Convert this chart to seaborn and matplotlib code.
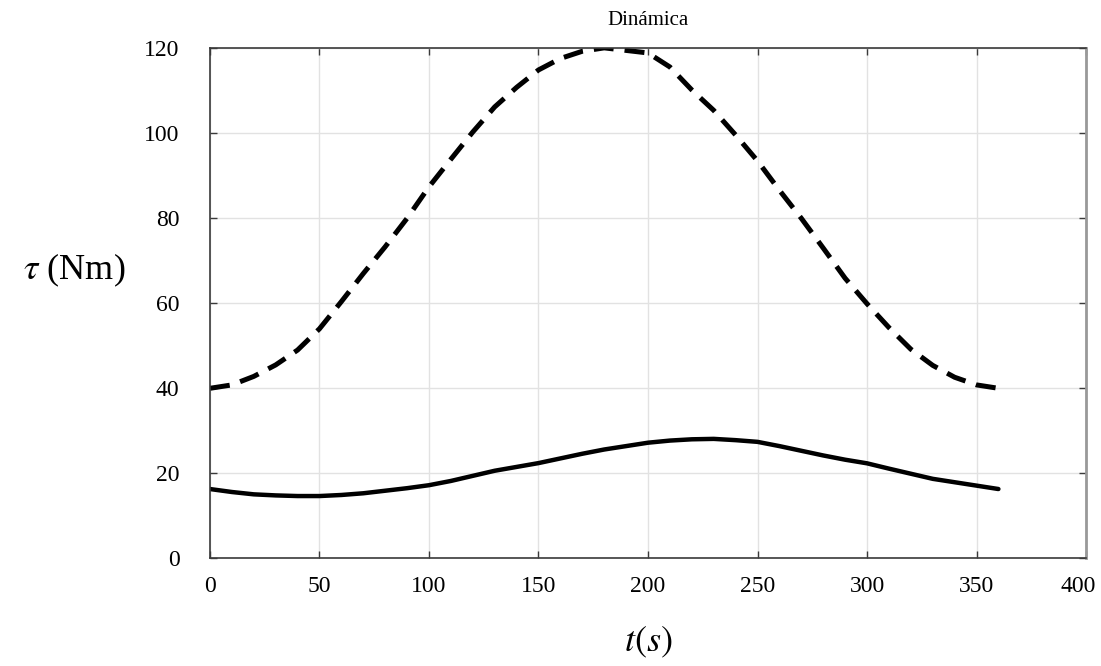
import numpy as np
import pandas as pd
import matplotlib
matplotlib.use("Agg")
import matplotlib.pyplot as plt
import matplotlib.transforms as mtransforms
import seaborn as sns

# tiempo (s) y par (Nm)
t_dash = [0, 10, 20, 30, 40, 50, 60, 70, 80, 90, 100, 110, 120, 130, 140, 150, 160, 170, 180,
          190, 200, 210, 220, 230, 240, 250, 260, 270, 280, 290, 300, 310, 320, 330, 340, 350, 360]
tau_dash = [40, 40.8, 42.8, 45.5, 49, 54, 60.4, 67, 73.3, 80, 87.4, 93.9, 100.3, 106.2, 110.8,
            114.9, 117.6, 119.3, 120.1, 119.5, 118.9, 115.6, 110.2, 105.4, 99.6, 93.5, 86.6,
            80, 73, 65.9, 59.9, 54.3, 49.2, 45.4, 42.6, 40.8, 40]

t_solid = t_dash
tau_solid = [16.3, 15.6, 15.05, 14.8, 14.65, 14.65, 14.9, 15.3, 15.9, 16.5, 17.2, 18.2, 19.4,
             20.6, 21.5, 22.4, 23.5, 24.6, 25.6, 26.4, 27.2, 27.7, 28.0, 28.1, 27.8, 27.4,
             26.4, 25.3, 24.2, 23.2, 22.35, 21.1, 19.9, 18.7, 17.9, 17.1, 16.3]

x_ticks = [0, 50, 100, 150, 200, 250, 300, 350, 400]
y_ticks = [0, 20, 40, 60, 80, 100, 120]

sns.set_theme(style="whitegrid")
plt.rcParams['font.family'] = ['Liberation Serif', 'DejaVu Serif']
plt.rcParams['mathtext.fontset'] = 'stix'

fig = plt.figure(figsize=(11.01, 6.66), dpi=100)
ax = fig.add_axes([0.1907, 0.1617, 0.7957, 0.7658])

sns.lineplot(x=t_dash, y=tau_dash, ax=ax, color='black', lw=3.6,
             linestyle=(0, (4, 2.2)))
sns.lineplot(x=t_solid, y=tau_solid, ax=ax, color='black', lw=3.2)

ax.set_xlim(0, 400)
ax.set_ylim(0, 120)
ax.set_xticks(x_ticks)
ax.set_yticks(y_ticks)
ax.set_facecolor('white')
ax.grid(True, color='#e2e2e2', lw=1)

for side in ['left', 'bottom', 'top']:
    ax.spines[side].set_color('#3a3a3a')
    ax.spines[side].set_linewidth(1.2)
ax.spines['right'].set_color('#999999')
ax.spines['right'].set_linewidth(2)

ax.tick_params(axis='both', which='both', direction='in', length=5, width=1,
               color='#3a3a3a', labelsize=17, labelcolor='black',
               top=True, right=True, bottom=True, left=True)
ax.tick_params(axis='x', pad=13)
ax.tick_params(axis='y', pad=22)

# el ultimo rotulo del eje x queda algo a la izquierda, como en la figura
last = ax.get_xticklabels()[-1]
last.set_transform(last.get_transform() +
                   mtransforms.ScaledTranslation(-8 / 100, 0, fig.dpi_scale_trans))

ax.set_title('Dinámica', fontsize=15, pad=17, color='black')
ax.set_xlabel(r'$t(s)$', fontsize=26, labelpad=20, color='black')
ax.set_ylabel(r'$\tau$ (Nm)', fontsize=26, rotation=0, color='black', va='center')
ax.yaxis.set_label_coords(-0.155, 0.565)

plt.savefig('out.png', dpi=100)
